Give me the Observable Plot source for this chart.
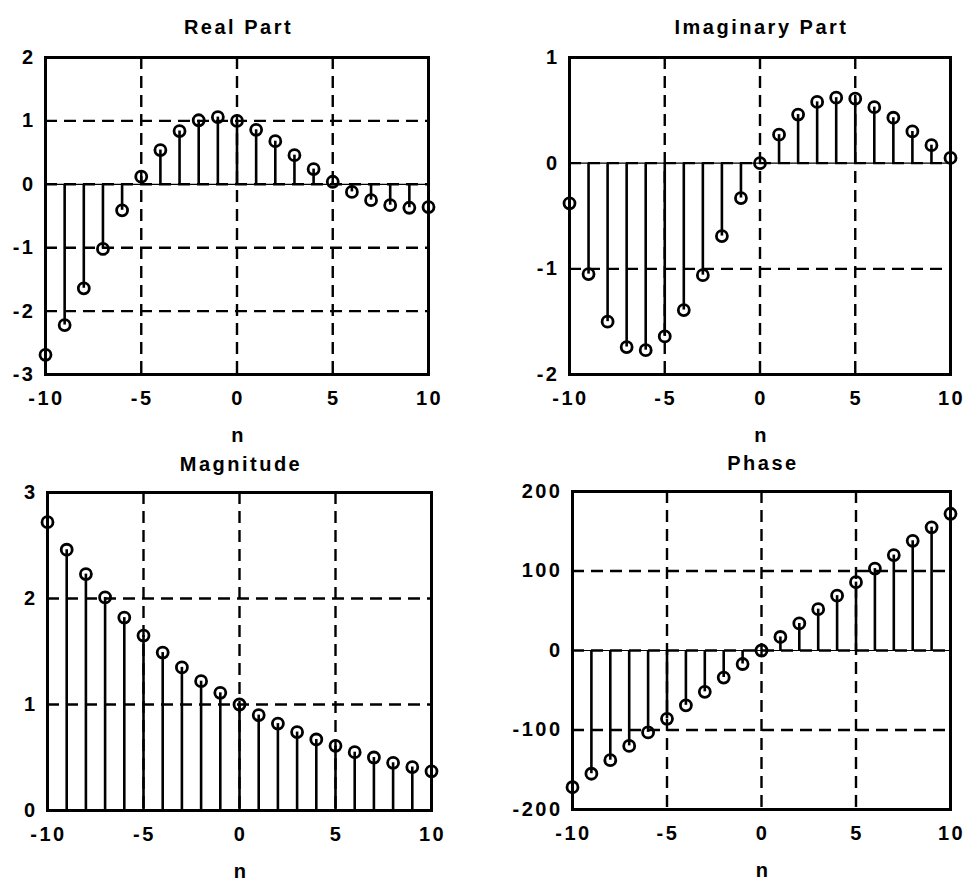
<!DOCTYPE html>
<html><head><meta charset="utf-8">
<script src="https://cdn.jsdelivr.net/npm/d3@7"></script>
<script src="https://cdn.jsdelivr.net/npm/@observablehq/plot@0.6"></script>
<style>
html,body{margin:0;padding:0;background:#fff;}
#wrap{position:relative;width:966px;height:880px;overflow:hidden;background:#fff;}
#wrap svg{position:absolute;overflow:visible;}
</style></head><body><div id="wrap"></div>
<script>
// ---- data ----
const n = [-10,-9,-8,-7,-6,-5,-4,-3,-2,-1,0,1,2,3,4,5,6,7,8,9,10];
const realPart = [-2.69,-2.22,-1.64,-1.02,-0.41,0.12,0.54,0.84,1.01,1.06,1.00,0.86,0.68,0.46,0.24,0.04,-0.12,-0.25,-0.33,-0.37,-0.36];
const imagPart = [-0.38,-1.05,-1.50,-1.74,-1.77,-1.64,-1.39,-1.06,-0.69,-0.33,0.00,0.27,0.46,0.58,0.62,0.61,0.53,0.43,0.30,0.17,0.05];
const magnitude = [2.72,2.46,2.23,2.01,1.82,1.65,1.49,1.35,1.22,1.11,1.00,0.90,0.82,0.74,0.67,0.61,0.55,0.50,0.45,0.41,0.37];
const phase = [-172,-155,-138,-120,-103,-86,-69,-52,-34,-17,0,17,34,52,69,86,103,120,138,155,172];

const titles = ["Real Part","Imaginary Part","Magnitude","Phase"];
const xLabel = "n";
const xTicks = [-10,-5,0,5,10];
const realTicks = [-3,-2,-1,0,1,2];
const imagTicks = [-2,-1,0,1];
const magTicks = [0,1,2,3];
const phaseTicks = [-200,-100,0,100,200];

// ---- drawing ----
const FONT = "'Liberation Sans', Arial, Helvetica, sans-serif";
const wrap = document.getElementById("wrap");

function panel(values, title, yTicks, box) {
  const data = n.map((x, i) => ({n: x, v: values[i]}));
  const yDomain = [yTicks[0], yTicks[yTicks.length - 1]];
  const innerY = yTicks.filter(t => t !== yDomain[0] && t !== yDomain[1]);
  const innerX = xTicks.slice(1, -1);
  const svg = Plot.plot({
    width: box.w, height: box.h,
    marginLeft: box.ml, marginRight: box.mr, marginTop: box.mt, marginBottom: box.mb,
    style: {fontFamily: FONT, fontWeight: "bold", fontSize: "20px", letterSpacing: "2.5px", color: "black", background: "transparent", overflow: "visible"},
    x: {domain: [xTicks[0], xTicks[xTicks.length - 1]]},
    y: {domain: yDomain},
    marks: [
      Plot.gridX(innerX, {stroke: "black", strokeOpacity: 1, strokeWidth: 2.4, strokeDasharray: "12,7"}),
      Plot.gridY(innerY, {stroke: "black", strokeOpacity: 1, strokeWidth: 2.4, strokeDasharray: "12,7"}),
      Plot.ruleY([0], {stroke: "black", strokeWidth: 1.2}),
      Plot.ruleX(data, {x: "n", y1: 0, y2: "v", stroke: "black", strokeWidth: 2.6}),
      Plot.dot(data, {x: "n", y: "v", r: 5.5, stroke: "black", strokeWidth: 2.8, fill: "none"}),
      Plot.frame({stroke: "black", strokeWidth: 3}),
      Plot.axisX(xTicks, {tickSize: 0, tickPadding: 16, label: null, fontSize: 20, fontWeight: "bold", dx: 1, tickFormat: d => String(d)}),
      Plot.axisY(yTicks, {tickSize: 0, tickPadding: 10, label: null, fontSize: 20, fontWeight: "bold", tickFormat: d => String(d)}),
      Plot.text([title], {frameAnchor: "top", lineAnchor: "bottom", dy: box.td, dx: 1.5, fontSize: 20, fontWeight: "bold", text: d => d}),
      Plot.text([xLabel], {frameAnchor: "bottom", lineAnchor: "bottom", dy: 67, dx: 1.5, fontSize: 20, fontWeight: "bold", text: d => d})
    ]
  });
  svg.style.left = box.x + "px";
  svg.style.top = box.y + "px";
  wrap.appendChild(svg);
}

panel(realPart, titles[0], realTicks, {x: 0, y: 0, w: 483, h: 450, ml: 45, mr: 55, mt: 57, mb: 76, td: -24});
panel(imagPart, titles[1], imagTicks, {x: 483, y: 0, w: 483, h: 450, ml: 86, mr: 16, mt: 57, mb: 76, td: -24});
panel(magnitude, titles[2], magTicks, {x: 0, y: 440, w: 483, h: 440, ml: 47, mr: 52, mt: 52, mb: 70, td: -22});
panel(phase, titles[3], phaseTicks, {x: 483, y: 440, w: 483, h: 440, ml: 89, mr: 16, mt: 51, mb: 71, td: -22});
</script>
</body></html>
